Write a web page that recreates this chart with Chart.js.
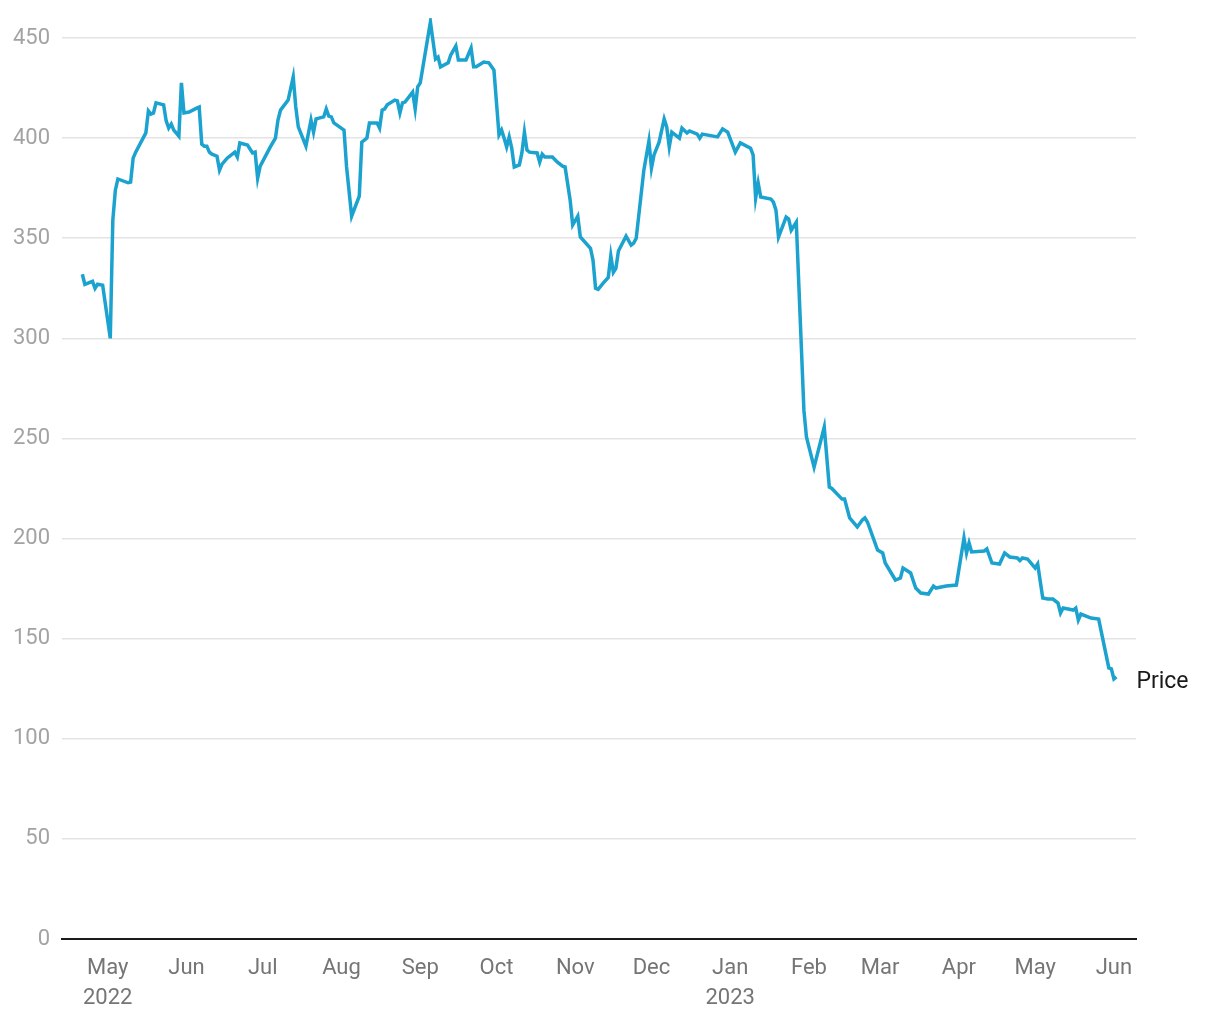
<!DOCTYPE html>
<html>
<head>
<meta charset="utf-8">
<title>Price</title>
<script src="https://cdn.jsdelivr.net/npm/chart.js@4.4.1/dist/chart.umd.min.js"></script>
<style>
  html, body { margin: 0; padding: 0; background: #fff; }
  #wrap { width: 1220px; height: 1020px; position: relative; }
</style>
</head>
<body>
<div id="wrap"><canvas id="chart"></canvas></div>
<script>
// trading dates and closing prices
const dates = [
  '2022-04-21', '2022-04-22', '2022-04-25', '2022-04-26', '2022-04-27', '2022-04-29', '2022-05-02', '2022-05-03',
  '2022-05-04', '2022-05-05', '2022-05-09', '2022-05-10', '2022-05-11', '2022-05-12', '2022-05-16', '2022-05-17',
  '2022-05-18', '2022-05-19', '2022-05-20', '2022-05-23', '2022-05-24', '2022-05-25', '2022-05-26', '2022-05-27',
  '2022-05-29', '2022-05-30', '2022-05-31', '2022-06-02', '2022-06-05', '2022-06-06', '2022-06-07', '2022-06-08',
  '2022-06-09', '2022-06-10', '2022-06-11', '2022-06-13', '2022-06-14', '2022-06-15', '2022-06-17', '2022-06-20',
  '2022-06-21', '2022-06-22', '2022-06-25', '2022-06-27', '2022-06-28', '2022-06-29', '2022-06-30', '2022-07-04',
  '2022-07-06', '2022-07-07', '2022-07-08', '2022-07-11', '2022-07-13', '2022-07-14', '2022-07-15', '2022-07-18',
  '2022-07-20', '2022-07-21', '2022-07-22', '2022-07-25', '2022-07-26', '2022-07-27', '2022-07-28', '2022-07-29',
  '2022-08-02', '2022-08-03', '2022-08-05', '2022-08-08', '2022-08-09', '2022-08-11', '2022-08-12', '2022-08-15',
  '2022-08-16', '2022-08-17', '2022-08-18', '2022-08-19', '2022-08-22', '2022-08-23', '2022-08-24', '2022-08-25',
  '2022-08-26', '2022-08-29', '2022-08-30', '2022-08-31', '2022-09-01', '2022-09-05', '2022-09-07', '2022-09-08',
  '2022-09-09', '2022-09-12', '2022-09-13', '2022-09-15', '2022-09-16', '2022-09-19', '2022-09-21', '2022-09-22',
  '2022-09-23', '2022-09-26', '2022-09-28', '2022-09-30', '2022-10-02', '2022-10-03', '2022-10-04', '2022-10-05',
  '2022-10-06', '2022-10-07', '2022-10-08', '2022-10-10', '2022-10-11', '2022-10-12', '2022-10-13', '2022-10-14',
  '2022-10-17', '2022-10-18', '2022-10-19', '2022-10-20', '2022-10-23', '2022-10-25', '2022-10-27', '2022-10-28',
  '2022-10-30', '2022-10-31', '2022-11-02', '2022-11-03', '2022-11-07', '2022-11-08', '2022-11-09', '2022-11-10',
  '2022-11-12', '2022-11-14', '2022-11-15', '2022-11-16', '2022-11-17', '2022-11-18', '2022-11-21', '2022-11-23',
  '2022-11-24', '2022-11-25', '2022-11-28', '2022-11-30', '2022-12-01', '2022-12-02', '2022-12-04', '2022-12-06',
  '2022-12-07', '2022-12-08', '2022-12-09', '2022-12-12', '2022-12-13', '2022-12-15', '2022-12-16', '2022-12-19',
  '2022-12-20', '2022-12-21', '2022-12-27', '2022-12-29', '2022-12-31', '2023-01-03', '2023-01-05', '2023-01-09',
  '2023-01-10', '2023-01-11', '2023-01-12', '2023-01-13', '2023-01-17', '2023-01-18', '2023-01-19', '2023-01-20',
  '2023-01-23', '2023-01-24', '2023-01-25', '2023-01-27', '2023-01-30', '2023-01-31', '2023-02-01', '2023-02-03',
  '2023-02-07', '2023-02-09', '2023-02-10', '2023-02-14', '2023-02-15', '2023-02-17', '2023-02-20', '2023-02-22',
  '2023-02-23', '2023-02-24', '2023-02-28', '2023-03-02', '2023-03-03', '2023-03-07', '2023-03-09', '2023-03-10',
  '2023-03-13', '2023-03-15', '2023-03-17', '2023-03-20', '2023-03-22', '2023-03-23', '2023-03-27', '2023-03-31',
  '2023-04-03', '2023-04-04', '2023-04-05', '2023-04-06', '2023-04-11', '2023-04-12', '2023-04-14', '2023-04-17',
  '2023-04-19', '2023-04-21', '2023-04-24', '2023-04-25', '2023-04-26', '2023-04-28', '2023-05-01', '2023-05-02',
  '2023-05-04', '2023-05-06', '2023-05-08', '2023-05-10', '2023-05-11', '2023-05-12', '2023-05-16', '2023-05-17',
  '2023-05-18', '2023-05-19', '2023-05-23', '2023-05-26', '2023-05-30', '2023-05-31', '2023-06-01', '2023-06-02'
];

const prices = [
  332, 327, 328.5, 325, 327, 326.5, 300, 359,
  374, 379.6, 377.7, 378, 390, 393, 402.6, 413.6,
  412, 412.6, 417.6, 416.6, 408.6, 405, 407, 404,
  401, 427.6, 412.6, 413, 415, 415.5, 397, 396,
  396, 393, 392, 391, 384, 387, 390, 393,
  390.6, 397.6, 396.6, 392.6, 393, 380, 386, 395.6,
  400, 409, 414, 419, 430.6, 415.6, 405.6, 396,
  409, 403, 409.6, 410.6, 414.6, 411, 410.6, 407.6,
  404, 385.6, 361, 371, 398, 400, 407.6, 407.6,
  405, 414, 414.6, 416.6, 419, 418.6, 412.6, 417.6,
  418, 423, 414.6, 425.6, 427.6, 458, 439.5, 440.5,
  435.6, 437.6, 441.5, 446, 439, 439, 445, 435.6,
  435.6, 438, 437.6, 434, 401.6, 404, 400, 395.6,
  400.6, 395, 385.6, 386.6, 392.6, 403, 394, 393,
  392.6, 388, 392, 390.6, 390.6, 388, 386, 385.6,
  369, 356.6, 361, 350.6, 345, 339, 325, 324.5,
  327.6, 330.4, 341.3, 333, 335, 343.6, 351, 346.6,
  347.6, 350, 384, 398.6, 385, 391.6, 398, 409.6,
  405.6, 395.6, 403, 400, 405, 402.6, 403.6, 402,
  400, 402, 400.6, 404.6, 403, 393, 397.6, 395,
  391.6, 370, 377.6, 370.6, 369.6, 368, 364, 350.6,
  360.6, 359.6, 354, 358, 264, 250.7, 245.7, 235.7,
  255.7, 225.7, 225, 219.7, 219.7, 210.3, 205.8, 209.3,
  210.3, 208.3, 194.3, 192.8, 187.8, 179.3, 180.3, 185.3,
  182.8, 175.3, 172.8, 172.3, 176.3, 175.3, 176.3, 176.8,
  200.3, 192.8, 197.8, 193.3, 193.8, 194.8, 187.8, 187.3,
  192.8, 190.8, 190.3, 189, 190.3, 189.8, 185.3, 187.3,
  170.3, 169.8, 169.8, 167.8, 162.8, 165.3, 164.3, 165.3,
  159.3, 162.3, 160.3, 159.8, 135.4, 134.9, 129.9, 130.9
];

const monthTicks = [
  '2022-05-01', '2022-06-01', '2022-07-01', '2022-08-01', '2022-09-01', '2022-10-01', '2022-11-01',
  '2022-12-01', '2023-01-01', '2023-02-01', '2023-03-01', '2023-04-01', '2023-05-01', '2023-06-01'
];
const monthLabels = [
  ['May', '2022'], 'Jun', 'Jul', 'Aug', 'Sep', 'Oct', 'Nov',
  'Dec', ['Jan', '2023'], 'Feb', 'Mar', 'Apr', 'May', 'Jun'
];
const yTicks = [0, 50, 100, 150, 200, 250, 300, 350, 400, 450];
const seriesName = 'Price';

const DAY = 86400000;
const toDay = (s) => Date.parse(s) / DAY;

const points = dates.map((d, i) => ({ x: toDay(d), y: prices[i] }));

// writes the series name next to the last point
const endLabel = {
  id: 'endLabel',
  afterDatasetsDraw(chart) {
    const meta = chart.getDatasetMeta(0);
    const last = meta.data[meta.data.length - 1];
    if (!last) return;
    const ctx = chart.ctx;
    ctx.save();
    ctx.font = '23px Roboto, "Noto Sans", sans-serif';
    ctx.fillStyle = '#1a1a1a';
    ctx.textAlign = 'left';
    ctx.textBaseline = 'middle';
    ctx.fillText(seriesName, last.x + 20, last.y + 5);
    ctx.restore();
  }
};

Chart.defaults.font.family = 'Roboto, "Noto Sans", sans-serif';
Chart.defaults.font.size = 22;

new Chart(document.getElementById('chart'), {
  type: 'line',
  data: {
    datasets: [{
      label: seriesName,
      data: points,
      borderColor: '#1ba2cf',
      borderWidth: 3.5,
      pointRadius: 0,
      tension: 0,
      fill: false
    }]
  },
  options: {
    responsive: true,
    maintainAspectRatio: false,
    animation: false,
    layout: { padding: { top: 18, right: 84, bottom: 0, left: 0 } },
    plugins: {
      legend: { display: false },
      tooltip: { enabled: false }
    },
    scales: {
      x: {
        type: 'linear',
        min: toDay('2022-04-13'),
        max: toDay('2023-06-09') + 0.7,
        afterBuildTicks: (scale) => {
          scale.ticks = monthTicks.map((m) => ({ value: toDay(m) }));
        },
        afterFit: (scale) => { scale.height = 81; },
        grid: { display: false, drawTicks: false },
        border: { display: true, color: '#1a1a1a', width: 2 },
        ticks: {
          autoSkip: false,
          maxRotation: 0,
          padding: 15,
          color: '#757575',
          font: { size: 22, lineHeight: 1.36 },
          callback: (value, index) => monthLabels[index]
        }
      },
      y: {
        min: 0,
        max: 460,
        afterBuildTicks: (scale) => {
          scale.ticks = yTicks.map((v) => ({ value: v }));
        },
        afterFit: (scale) => {
          scale.width = 62;
          scale.paddingTop = 0;
          scale.paddingBottom = 0;
        },
        grid: { color: '#e3e3e3', lineWidth: 1.5, drawTicks: false },
        border: { display: false },
        ticks: {
          padding: 12,
          color: '#a3a3a3',
          font: { size: 22 }
        }
      }
    }
  },
  plugins: [endLabel]
});
</script>
</body>
</html>
